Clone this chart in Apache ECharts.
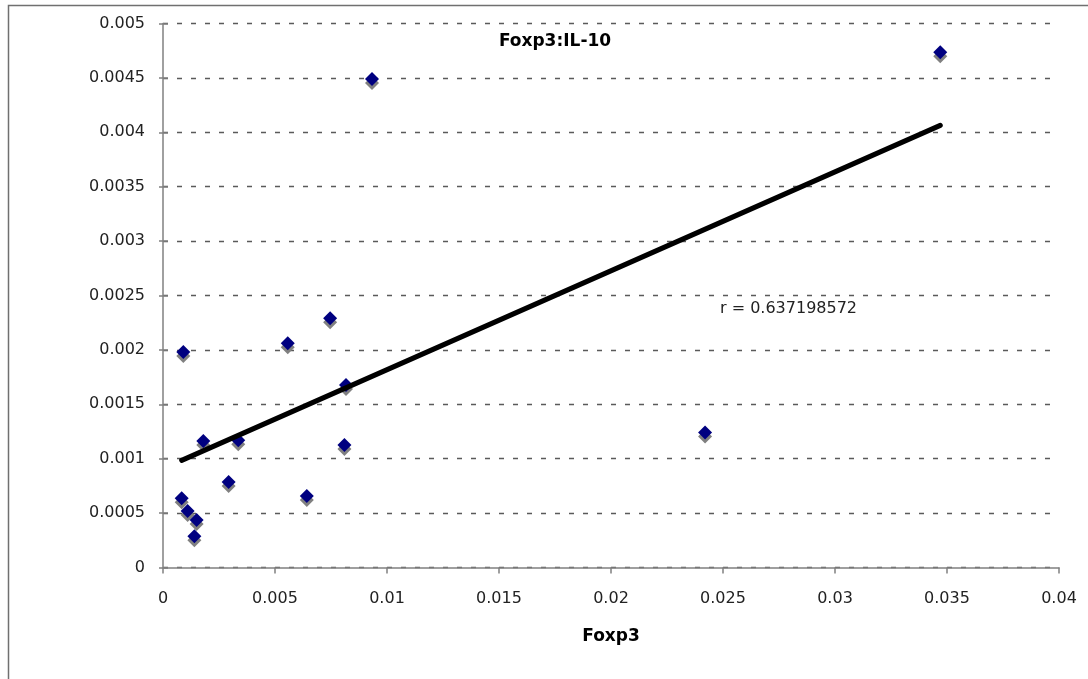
<!DOCTYPE html>
<html>
<head>
<meta charset="utf-8">
<script src="https://cdn.jsdelivr.net/npm/echarts@6/dist/echarts.min.js"></script>
<style>
  html, body { margin: 0; padding: 0; background: #fff; }
  #chart { width: 1088px; height: 679px; }
</style>
</head>
<body>
<div id="chart"></div>
<script>
// ---- data ----
const foxp3 = [0.000906, 0.00557, 0.00817, 0.0018, 0.00336, 0.0081, 0.00293, 0.00642,
               0.000834, 0.0011, 0.0015, 0.0014, 0.00933, 0.0242, 0.0347, 0.00746];
const il10  = [0.00198, 0.00206, 0.001677, 0.001163, 0.00117, 0.001126, 0.000786, 0.000657,
               0.000636, 0.000519, 0.000437, 0.000287, 0.00449, 0.00124, 0.004735, 0.00229];
const xTickLabels = ['0', '0.005', '0.01', '0.015', '0.02', '0.025', '0.03', '0.035', '0.04'];
const yTickLabels = ['0', '0.0005', '0.001', '0.0015', '0.002', '0.0025', '0.003', '0.0035', '0.004', '0.0045', '0.005'];
const titleText = 'Foxp3:IL-10';
const xName = 'Foxp3';
const rLabel = 'r = 0.637198572';

// ---- build ----
const points = foxp3.map((x, i) => [x, il10[i]]);
const n = foxp3.length;
const mx = foxp3.reduce((a, b) => a + b, 0) / n;
const my = il10.reduce((a, b) => a + b, 0) / n;
let sxy = 0, sxx = 0;
for (let i = 0; i < n; i++) { sxy += (foxp3[i] - mx) * (il10[i] - my); sxx += (foxp3[i] - mx) ** 2; }
const slope = sxy / sxx, intercept = my - slope * mx;
const x0 = Math.min(...foxp3), x1 = Math.max(...foxp3);
const trend = [[x0, intercept + slope * x0], [x1, intercept + slope * x1]];

const xInt = parseFloat(xTickLabels[1]) - parseFloat(xTickLabels[0]);
const yInt = parseFloat(yTickLabels[1]) - parseFloat(yTickLabels[0]);
const xMin = parseFloat(xTickLabels[0]), xMax = parseFloat(xTickLabels[xTickLabels.length - 1]);
const yMin = parseFloat(yTickLabels[0]), yMax = parseFloat(yTickLabels[yTickLabels.length - 1]);
const fmt = (labels) => (v) => {
  let best = labels[0], d = Infinity;
  labels.forEach(l => { const dd = Math.abs(parseFloat(l) - v); if (dd < d) { d = dd; best = l; } });
  return best;
};

const FONT = 'DejaVu Sans';
const chart = echarts.init(document.getElementById('chart'), null, { renderer: 'canvas' });
chart.setOption({
  backgroundColor: '#ffffff',
  animation: false,
  grid: { left: 163, right: 29, top: 23.5, bottom: 111.5, containLabel: false },
  title: {
    text: titleText, left: 550, top: 28, textAlign: 'center',
    textStyle: { fontFamily: FONT, fontSize: 17, fontWeight: 'bold', color: '#000' }
  },
  xAxis: {
    type: 'value', min: xMin, max: xMax, interval: xInt,
    name: xName, nameLocation: 'middle', nameGap: 61,
    nameTextStyle: { fontFamily: FONT, fontSize: 17, fontWeight: 'bold', color: '#000' },
    axisLine: { show: true, lineStyle: { color: '#808080', width: 1.5 } },
    axisTick: { show: true, inside: false, length: 6, lineStyle: { color: '#808080', width: 1.5 } },
    axisLabel: { margin: 23, fontFamily: FONT, fontSize: 16, color: '#222', formatter: fmt(xTickLabels) },
    splitLine: { show: false }
  },
  yAxis: [{
    type: 'value', min: yMin, max: yMax, interval: yInt, position: 'left',
    axisLine: { show: true, lineStyle: { color: '#808080', width: 1.5 } },
    axisTick: { show: true, inside: false, length: 4, lineStyle: { color: '#808080', width: 1.5 } },
    axisLabel: { margin: 18, fontFamily: FONT, fontSize: 16, color: '#222', formatter: fmt(yTickLabels) },
    splitLine: { show: true, lineStyle: { color: '#5a5a5a', width: 1.3, type: [5, 9] } }
  }, {
    type: 'value', min: yMin, max: yMax, interval: yInt, position: 'left', offset: 0,
    axisLine: { show: false },
    axisTick: { show: true, inside: true, length: 5, lineStyle: { color: '#808080', width: 1.5 } },
    axisLabel: { show: false },
    splitLine: { show: false }
  }],
  graphic: [
    { type: 'rect', silent: true, z: -1,
      shape: { x: 8.5, y: 5.5, width: 1200, height: 800 },
      style: { fill: 'none', stroke: '#707070', lineWidth: 1.5 } },
    { type: 'text', left: 720, top: 301, silent: true,
      style: { text: rLabel, font: '16px "DejaVu Sans"', fill: '#222' } }
  ],
  series: [{
    type: 'scatter', data: points, symbol: 'diamond', symbolSize: [14, 14],
    itemStyle: { color: '#000080', opacity: 1, shadowColor: 'rgba(128,128,128,1)', shadowBlur: 0, shadowOffsetX: 0, shadowOffsetY: 4 },
    z: 3
  }, {
    type: 'line', data: trend, symbol: 'none', silent: true,
    lineStyle: { color: '#000', width: 5, cap: 'round' }, z: 4
  }]
});
</script>
</body>
</html>
